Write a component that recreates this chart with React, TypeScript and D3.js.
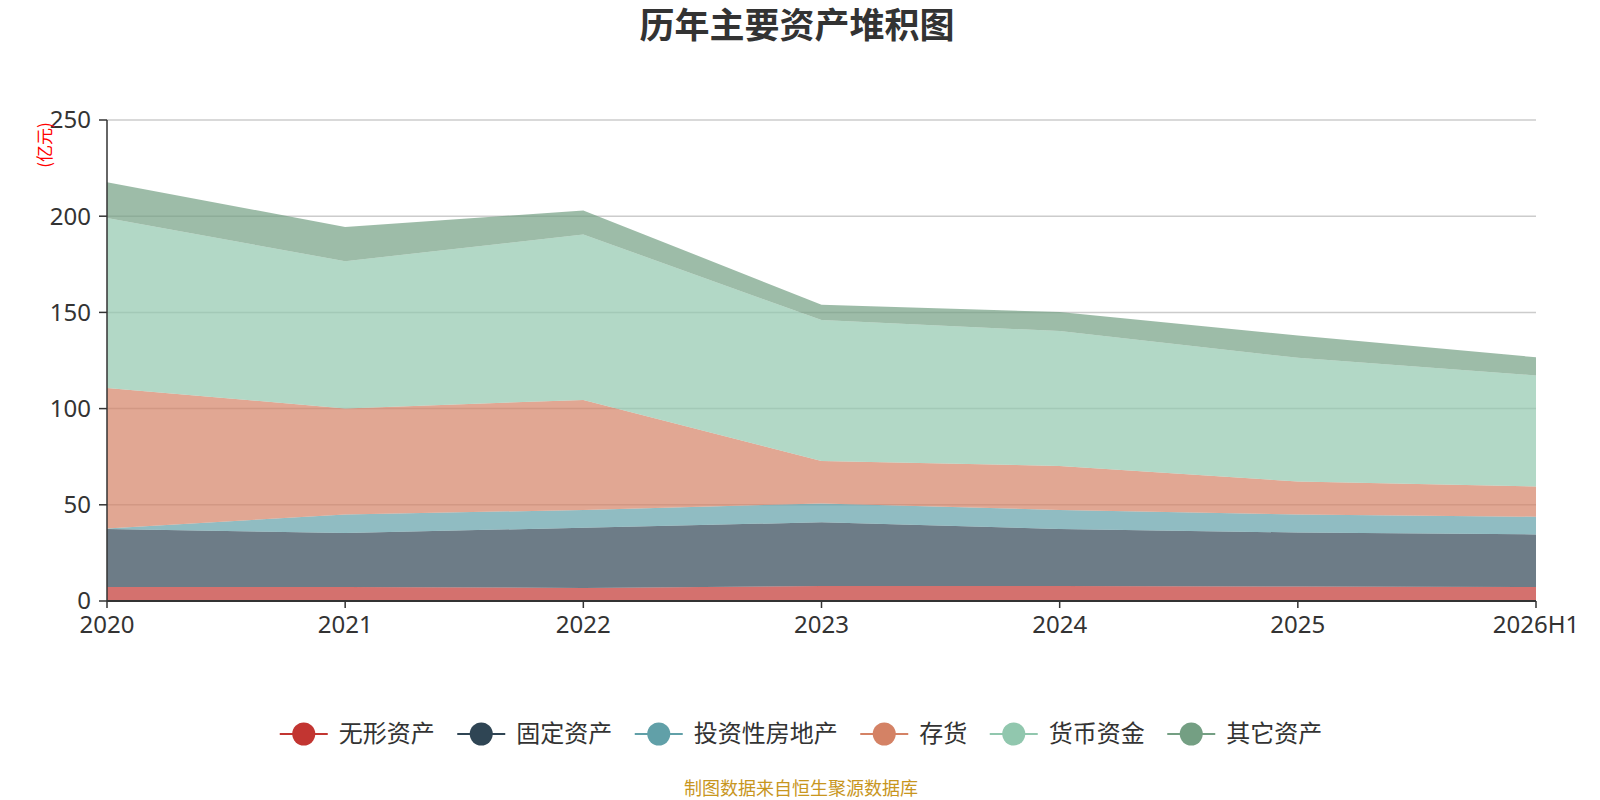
import { useMemo } from 'react'
import * as d3 from 'd3'

const CATEGORIES = ['2020', '2021', '2022', '2023', '2024', '2025', '2026H1']
const SERIES_NAMES = ['无形资产', '固定资产', '投资性房地产', '存货', '货币资金', '其它资产']
const INTANGIBLE = [7.3, 7.3, 6.8, 7.8, 7.8, 7.5, 7.3]
const FIXED = [30.1, 28.0, 31.3, 33.1, 29.6, 28.1, 27.3]
const INVEST_PROPERTY = [0.3, 9.7, 9.2, 9.8, 9.9, 9.4, 9.2]
const INVENTORY = [73.0, 55.1, 57.2, 22.1, 22.9, 17.1, 15.7]
const CASH = [88.3, 76.5, 86.0, 73.2, 70.1, 64.3, 57.7]
const OTHER = [18.7, 17.8, 12.5, 8.0, 9.9, 11.6, 9.5]
const Y_TICKS = [0, 50, 100, 150, 200, 250]

const COLORS = ['#c23531', '#2f4554', '#61a0a8', '#d48265', '#91c7ae', '#749f83']
const W = 1600
const H = 800
const MARGIN = { top: 120, right: 64, bottom: 199, left: 107 }
const AXIS_COLOR = '#333'
const GRID = '#ccc'
const LATIN = "'Noto Sans', 'Noto Sans CJK SC', sans-serif"
const CJK = "'Noto Sans CJK SC', sans-serif"

export default function App() {
  const rows = useMemo(
    () =>
      CATEGORIES.map((c, i) => ({
        cat: c,
        s0: INTANGIBLE[i],
        s1: FIXED[i],
        s2: INVEST_PROPERTY[i],
        s3: INVENTORY[i],
        s4: CASH[i],
        s5: OTHER[i],
      })),
    []
  )

  const x = d3.scalePoint().domain(CATEGORIES).range([MARGIN.left, W - MARGIN.right])
  const y = d3.scaleLinear().domain([0, 250]).range([H - MARGIN.bottom, MARGIN.top])

  const stacked = d3.stack<any>().keys(['s0', 's1', 's2', 's3', 's4', 's5'])(rows)
  const area = d3
    .area<any>()
    .x((d) => x(d.data.cat) as number)
    .y0((d) => y(d[0]))
    .y1((d) => y(d[1]))

  // legend layout
  const legendFont = 24
  const markerW = 48
  const itemGap = 22.5
  const widths = SERIES_NAMES.map((n) => markerW + 11 + n.length * legendFont)
  const total = d3.sum(widths) + itemGap * (widths.length - 1)
  let lx = 801 - total / 2
  const legendX = widths.map((w) => {
    const p = lx
    lx += w + itemGap
    return p
  })
  const legendY = 734

  return (
    <div style={{ position: 'absolute', left: 0, top: 0, width: W, height: H, background: '#fff' }}>
      <svg width={W} height={H}>
        <text x={797} y={38} textAnchor="middle" fontFamily={CJK} fontWeight="bold" fontSize={35} fill="#333">
          历年主要资产堆积图
        </text>

        {/* grid */}
        {Y_TICKS.filter((t) => t > 0).map((t) => (
          <line key={t} x1={MARGIN.left} x2={W - MARGIN.right} y1={y(t)} y2={y(t)} stroke={GRID} strokeWidth={1.5} />
        ))}

        {/* areas */}
        {stacked.map((s, i) => (
          <path key={s.key} d={area(s) ?? ''} fill={COLORS[i]} fillOpacity={0.7} />
        ))}

        {/* y axis */}
        <line x1={MARGIN.left} x2={MARGIN.left} y1={y(0)} y2={y(250)} stroke={AXIS_COLOR} strokeWidth={1.5} />
        {Y_TICKS.map((t) => (
          <g key={t}>
            <line x1={MARGIN.left - 8} x2={MARGIN.left} y1={y(t)} y2={y(t)} stroke={AXIS_COLOR} strokeWidth={1.5} />
            <text x={MARGIN.left - 16} y={y(t)} dy="0.35em" textAnchor="end" fontFamily={LATIN} fontSize={24} fill="#333">
              {t}
            </text>
          </g>
        ))}
        <text
          transform={`translate(45,145) rotate(-90)`}
          textAnchor="middle"
          dy="0.35em"
          fontFamily={CJK}
          fontSize={17}
          fill="#ff0000"
        >
          (亿元)
        </text>

        {/* x axis */}
        <line x1={MARGIN.left} x2={W - MARGIN.right} y1={y(0)} y2={y(0)} stroke={AXIS_COLOR} strokeWidth={2} />
        {CATEGORIES.map((c) => (
          <g key={c}>
            <line x1={x(c)} x2={x(c)} y1={y(0)} y2={y(0) + 7} stroke={AXIS_COLOR} strokeWidth={1.5} />
            <text x={x(c)} y={y(0) + 32} textAnchor="middle" fontFamily={LATIN} fontSize={24} fill="#333">
              {c}
            </text>
          </g>
        ))}

        {/* legend */}
        {SERIES_NAMES.map((n, i) => (
          <g key={n} transform={`translate(${legendX[i]},${legendY})`}>
            <line x1={0} x2={markerW} y1={0} y2={0} stroke={COLORS[i]} strokeWidth={2} />
            <circle cx={markerW / 2} cy={0} r={11.5} fill={COLORS[i]} />
            <text x={markerW + 11} y={0} dy="0.35em" fontFamily={CJK} fontSize={legendFont} fill="#333">
              {n}
            </text>
          </g>
        ))}

        <text x={801} y={789} dy="0.35em" textAnchor="middle" fontFamily={CJK} fontSize={18} fill="#c8961e">
          制图数据来自恒生聚源数据库
        </text>
      </svg>
    </div>
  )
}
